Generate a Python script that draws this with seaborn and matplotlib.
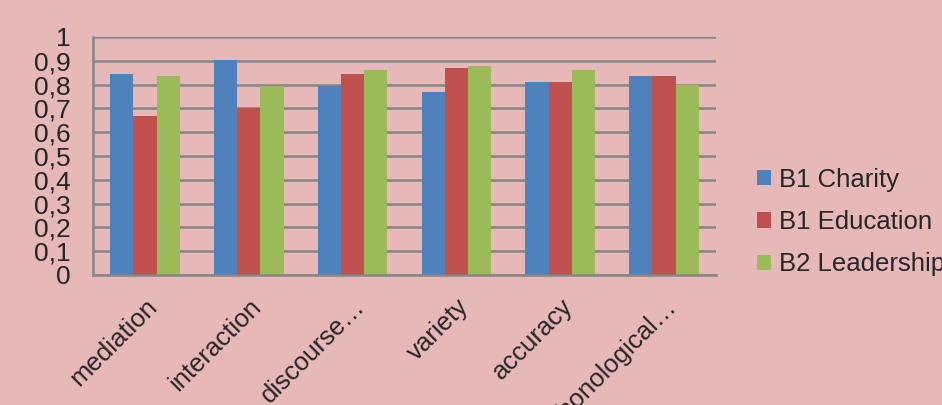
import matplotlib
matplotlib.use("Agg")
import matplotlib.pyplot as plt
import seaborn as sns
import pandas as pd
from matplotlib.patches import Patch

categories = ["mediation", "interaction", "discourse…", "variety", "accuracy", "phonological…"]
series_names = ["B1 Charity", "B1 Education", "B2 Leadership"]
b1_charity = [0.845, 0.902, 0.795, 0.768, 0.81, 0.835]
b1_education = [0.667, 0.702, 0.843, 0.869, 0.81, 0.835]
b2_leadership = [0.835, 0.795, 0.86, 0.877, 0.86, 0.80]
y_ticks = [0, 0.1, 0.2, 0.3, 0.4, 0.5, 0.6, 0.7, 0.8, 0.9, 1.0]
y_tick_labels = ["0", "0,1", "0,2", "0,3", "0,4", "0,5", "0,6", "0,7", "0,8", "0,9", "1"]
colors = ["#4F81BD", "#C0504D", "#9BBB59"]
bg = "#E6B8B7"

rows = []
for name, vals in zip(series_names, [b1_charity, b1_education, b2_leadership]):
    for c, v in zip(categories, vals):
        rows.append({"category": c, "series": name, "value": v})
df = pd.DataFrame(rows)

sns.set_theme(style="white")
plt.rcParams['font.family'] = ['Liberation Sans', 'DejaVu Sans']

fig = plt.figure(figsize=(9.42, 4.05), dpi=100, facecolor=bg)
ax = fig.add_axes([93/942, 1 - 275/405, 623/942, 238/405])
ax.set_facecolor(bg)

sns.barplot(data=df, x="category", y="value", hue="series", order=categories,
            hue_order=series_names, palette=colors, width=0.67, gap=0,
            saturation=1, ax=ax, legend=False, edgecolor="none", linewidth=0)

ax.set_ylim(0, 1)
ax.set_xlim(-0.5, len(categories) - 0.5)
ax.set_yticks(y_ticks)
ax.set_yticklabels(y_tick_labels, fontsize=19)
ax.yaxis.grid(True, color="#868686", linewidth=1.8)
ax.set_axisbelow(True)
for s in ["top", "right"]:
    ax.spines[s].set_visible(False)
for s in ["left", "bottom"]:
    ax.spines[s].set_color("#868686")
    ax.spines[s].set_linewidth(1.8)
ax.tick_params(axis="y", length=0, pad=16)
ax.tick_params(axis="x", length=0, pad=14)
ax.set_xticks(range(len(categories)))
ax.set_xticklabels(categories, rotation=45, ha="right", rotation_mode="anchor", fontsize=18.5)
ax.set_xlabel("")
ax.set_ylabel("")

handles = [Patch(facecolor=c, edgecolor="none") for c in colors]
fig.legend(handles, series_names, loc="center left", bbox_to_anchor=(757/942, 1 - 222/405),
           frameon=False, fontsize=18.5, handlelength=0.55, handleheight=0.55,
           handletextpad=0.3, labelspacing=0.72, borderaxespad=0, borderpad=0)

fig.savefig("out.png", dpi=100, facecolor=bg)
